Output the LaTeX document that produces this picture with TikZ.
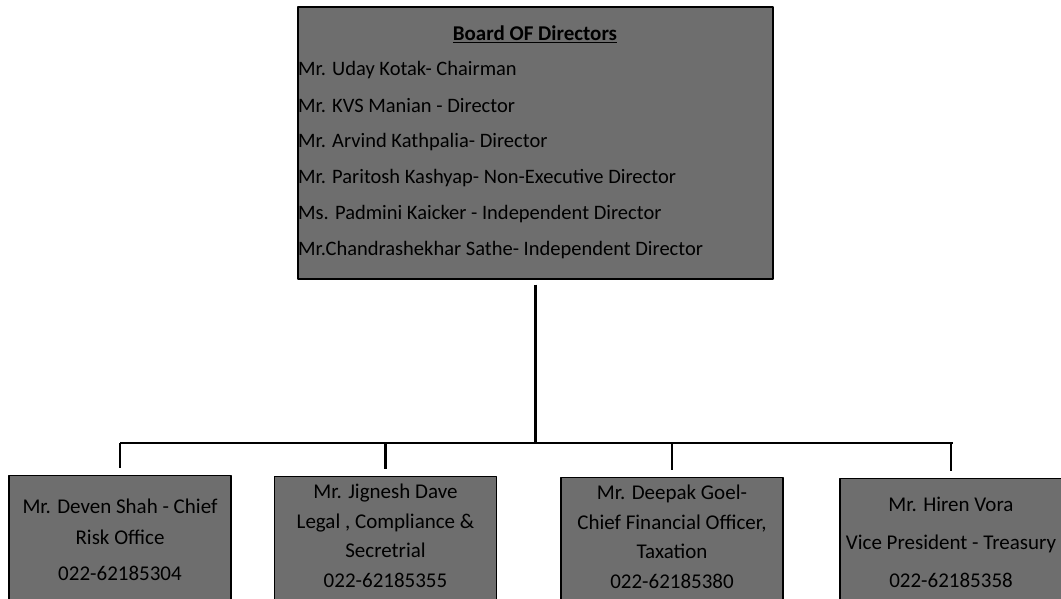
\documentclass[tikz,border=0pt]{standalone}
\usepackage{fontspec}
\setmainfont{Carlito}
\definecolor{scangray}{gray}{0.43}
\begin{document}
\begin{tikzpicture}[x=1pt, y=-1pt, line join=round, line cap=butt,
	box/.style={draw=black, line width=1.4pt, fill=scangray, inner sep=0pt},
	staff/.style={box, anchor=north, minimum width=222pt, minimum height=128pt, align=center, font=\fontsize{21}{31}\selectfont},
	link/.style={line width=2pt}]
				\useasboundingbox (0,0) rectangle (1061,598);
				% board of directors
				\node[box, minimum width=475pt, minimum height=272pt] (board) at (535.5,143) {};
				\node[font=\fontsize{21}{24}\selectfont\bfseries] (head) at (535,34) {\underline{Board OF Directors}};
				\foreach \name [count=\i] in {Mr. Uday Kotak- Chairman, Mr. KVS Manian - Director, Mr. Arvind Kathpalia- Director, Mr. Paritosh Kashyap- Non-Executive Director, Ms. Padmini Kaicker - Independent Director, Mr.Chandrashekhar Sathe- Independent Director}
					\node[anchor=west, inner xsep=0pt, font=\fontsize{20.5}{24}\selectfont] (dir\i) at (298,34+36*\i) {\name};
				% staff
				\node[staff] (deven) at (120,475) {Mr. Deven Shah - Chief\\ Risk Office\\[5pt] 022-62185304};
				\node[staff, font=\fontsize{21}{30}\selectfont] (jignesh) at (385.5,476) {Mr. Jignesh Dave\\ Legal , Compliance \&\\ Secretrial\\ 022-62185355\\[-20pt]\mbox{}};
				\node[staff, font=\fontsize{21}{30}\selectfont] (deepak) at (672,477) {Mr. Deepak Goel-\\ Chief Financial Officer,\\ Taxation\\ 022-62185380\\[-20pt]\mbox{}};
				\node[staff] (hiren) at (951,478) {Mr. Hiren Vora\\[7pt] Vice President - Treasury\\[7pt] 022-62185358};
				% lines
				\coordinate (busL) at (120,443);
				\coordinate (busR) at (953,443);
				\draw[link, line width=2.6pt] ([yshift=-5pt]board.south) -- (board.south |- busL);
				\draw[link] (busL) -- (busR);
				\foreach \n in {deven, jignesh, deepak, hiren}
					\draw[link, line width=2.6pt] (\n.north |- busL) -- ([yshift=7pt]\n.north);
			\end{tikzpicture}
\end{document}
